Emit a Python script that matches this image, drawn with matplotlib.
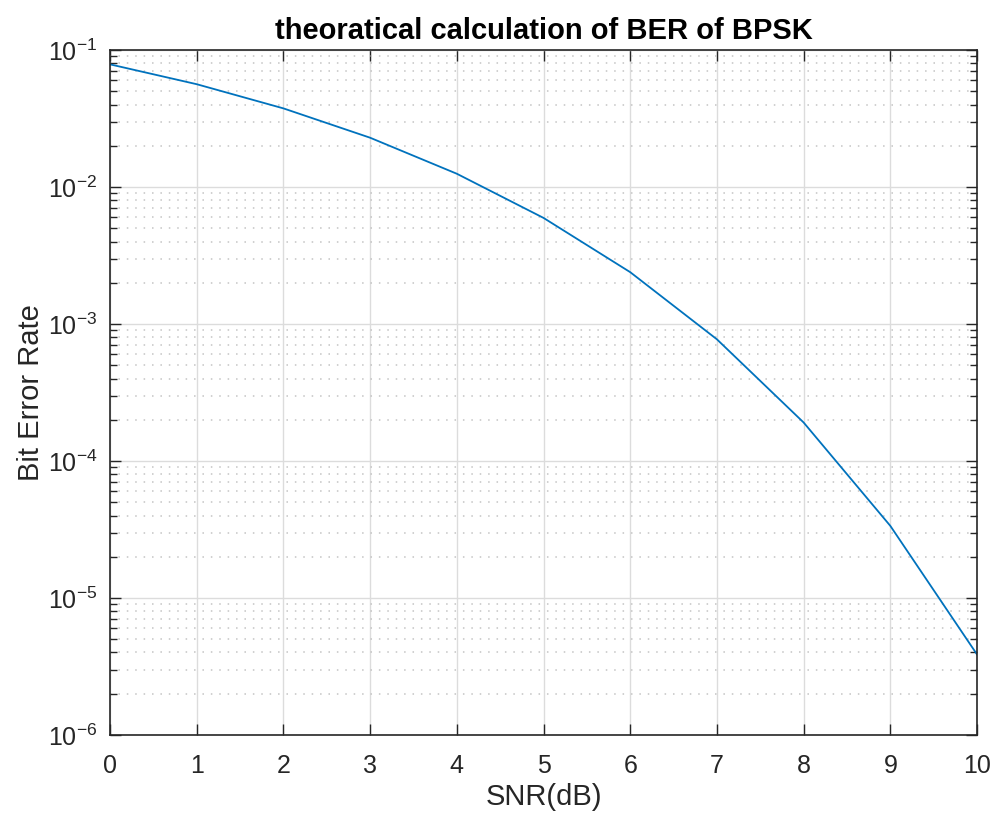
import matplotlib
matplotlib.use("Agg")
import matplotlib.pyplot as plt
from matplotlib.ticker import LogLocator, NullFormatter

# SNR values (dB) and theoretical BER
snr_db = [0, 1, 2, 3, 4, 5, 6, 7, 8, 9, 10]
ber = [0.0786, 0.0563, 0.0375, 0.0229, 0.0125, 0.00595, 0.00239,
       7.73e-4, 1.91e-4, 3.36e-5, 3.87e-6]

x_ticks = [0, 1, 2, 3, 4, 5, 6, 7, 8, 9, 10]
y_ticks = [1e-6, 1e-5, 1e-4, 1e-3, 1e-2, 1e-1]
y_tick_labels = ['$10^{-6}$', '$10^{-5}$', '$10^{-4}$', '$10^{-3}$',
                 '$10^{-2}$', '$10^{-1}$']

plt.rcParams['font.family'] = ['Liberation Sans', 'DejaVu Sans']
plt.rcParams['mathtext.fontset'] = 'custom'
plt.rcParams['mathtext.rm'] = 'Liberation Sans'
plt.rcParams['mathtext.it'] = 'Liberation Sans'

fig = plt.figure(figsize=(9.9, 8.16), dpi=100)
ax = fig.add_axes([0.1111, 0.0993, 0.8758, 0.8394])

ax.semilogy(snr_db, ber, color='#0072BD', linewidth=1.3)

ax.set_xlim(0, 10)
ax.set_ylim(1e-6, 1e-1)
ax.set_xticks(x_ticks)
ax.set_yticks(y_ticks)
ax.set_yticklabels(y_tick_labels)
ax.yaxis.set_minor_locator(LogLocator(base=10, subs=range(2, 10), numticks=20))
ax.yaxis.set_minor_formatter(NullFormatter())

ax.grid(True, which='major', color='#dcdcdc', linewidth=1.0, linestyle='-')
ax.grid(True, which='minor', axis='y', color='#c4c4c4', linewidth=1.1,
        linestyle=(0, (1, 4.5)))
ax.set_axisbelow(True)

ax.tick_params(which='both', direction='in', top=True, right=True,
               labelsize=18, colors='#262626', width=1.0)
ax.tick_params(axis='x', which='major', length=8, pad=14)
ax.tick_params(axis='y', which='major', length=8, pad=9)
ax.tick_params(which='minor', length=5)
for s in ax.spines.values():
    s.set_color('#262626')
    s.set_linewidth(1.2)

ax.set_xlabel('SNR(dB)', fontsize=21, color='#262626', labelpad=3)
ax.set_ylabel('Bit Error Rate', fontsize=21, color='#262626', labelpad=2)
ax.set_title('theoratical calculation of BER of BPSK', fontsize=21,
             fontweight='bold', pad=8)

fig.savefig('out.png', dpi=100)
